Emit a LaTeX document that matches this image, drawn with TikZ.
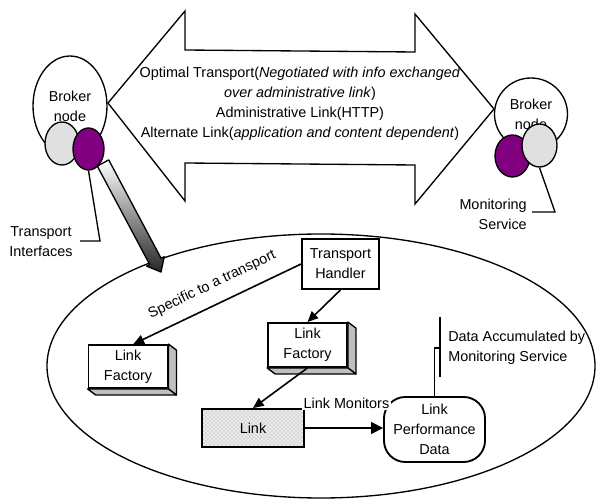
\documentclass[tikz,border=0pt]{standalone}
\usepackage{fontspec}
\setmainfont{Liberation Sans}
\usetikzlibrary{arrows.meta,shapes.geometric,patterns,calc}
\definecolor{brokerpurple}{HTML}{800080}
\definecolor{ifacegray}{HTML}{E0E0E0}
\begin{document}
\begin{tikzpicture}[x=0.75pt,y=-0.75pt,
  font=\fontsize{10.8}{15}\selectfont,
  every node/.style={inner sep=0pt},
  ln/.style={line width=1pt},
  box/.style={draw, line width=1.4pt, fill=white, align=center},
  side/.style={fill=black!25, draw, line width=1pt, line join=round},
  arr/.style={line width=1.2pt, -{Triangle[length=8pt,width=7pt]}},
  bigarr/.style={line width=1.2pt, -{Triangle[length=9pt,width=9pt]}},
  broker/.style={ellipse, draw, line width=1pt, fill=white, align=center},
  iface/.style={ellipse, draw, line width=1pt},
  lbl/.style={align=center}]
\useasboundingbox (0,0) rectangle (597,499);

% domain ellipse
\node[ellipse, draw, line width=1pt, minimum width=411pt, minimum height=198pt] (domain) at (321,366) {};

% big double arrow
\draw[ln, line join=miter, fill=white] (108,103) -- (185,11) -- (185,50) -- (415,52) -- (415,14)
  -- (494,109) -- (415,204) -- (415,165) -- (185,163) -- (185,201) -- cycle;
\node[lbl] (links) at (300,104) {Optimal Transport(\textit{Negotiated with info exchanged}\\
  \textit{over administrative link})\\
  Administrative Link(HTTP)\\
  Alternate Link(\textit{application and content dependent})};

% gradient arrow (transport interfaces)
\draw[ln, line join=round, top color=white, bottom color=black!85]
  (108.7,159.9) -- (161.1,258.3) -- (164.2,256.7) -- (161,272) -- (146.6,266.1)
  -- (149.7,264.5) -- (97.3,166.1) -- cycle;

% left broker
\node[broker, minimum width=55.5pt, minimum height=75pt] (b1) at (70,106) {Broker\\node};
\node[iface, fill=ifacegray, minimum width=25.5pt, minimum height=32.25pt] (g1) at (62,143.5) {};
\node[iface, fill=brokerpurple, minimum width=23.25pt, minimum height=31.5pt] (p1) at (88.5,149) {};
\draw[ln] (p1.south) -- (100,241) -- (80,241);
\node[lbl] (ti) at (41,242) {Transport\\Interfaces};

% right broker
\node[broker, minimum width=54.75pt, minimum height=54pt] (b2) at (531,114) {Broker\\node};
\node[iface, fill=brokerpurple, minimum width=26.25pt, minimum height=31.5pt] (p2) at (512.5,156) {};
\node[iface, fill=ifacegray, minimum width=26.25pt, minimum height=32.25pt] (g2) at (539.5,145.5) {};
\draw[ln] (g2.south) -- (555,212) -- (532,212);
\node[align=right, anchor=east] (ms) at (527,214) {Monitoring\\Service};

% transport handler
\node[box, minimum width=57.75pt, minimum height=37.5pt] (th) at (340.5,264) {Transport\\Handler};

% link factories
\node[box, minimum width=59.25pt, minimum height=32.25pt] (lf1) at (128,366.5) {Link\\Factory};
\draw[side] (lf1.north east) -- ++(8,6) -- ($(lf1.south east)+(8,6)$) -- (lf1.south east) -- cycle;
\draw[side] (lf1.south west) -- ++(8,6) -- ($(lf1.south east)+(8,6)$) -- (lf1.south east) -- cycle;

\node[box, minimum width=59.25pt, minimum height=33pt] (lf2) at (307.5,345) {Link\\Factory};
\draw[side] (lf2.north east) -- ++(8,6) -- ($(lf2.south east)+(8,6)$) -- (lf2.south east) -- cycle;
\draw[side] (lf2.south west) -- ++(8,6) -- ($(lf2.south east)+(8,6)$) -- (lf2.south east) -- cycle;

% link
\node[draw, line width=1.4pt, preaction={fill=black!8}, pattern=crosshatch dots, pattern color=black!40,
  minimum width=76.5pt, minimum height=28.5pt] (link) at (253,428) {Link};

% link performance data
\node[draw, line width=1.4pt, rounded corners=16pt, fill=white, align=center,
  minimum width=75.75pt, minimum height=48.75pt] (lpd) at (434.5,429.5) {Link\\Performance\\Data};
\node[fill=white, inner sep=1pt, anchor=west] (lm) at (302,403) {Link Monitors};

% data accumulated callout
\draw[ln] (lpd.north) -- (434.5,348) -- (440,348);
\draw[ln] (440,317) -- (440,377);
\node[align=left, anchor=west] (da) at (448,348) {Data Accumulated by\\Monitoring Service};

% connectors
\draw[arr] (th.west) -- ([xshift=4pt]lf1.north)
  node[pos=0.48, sloped, above=9pt] (spec) {Specific to a transport};
\draw[arr] (th.south) -- (lf2.north);
\draw[arr] (lf2.south) -- (link.north);
\draw[bigarr] (link.east) -- (link.east -| lpd.west);
\end{tikzpicture}
\end{document}
